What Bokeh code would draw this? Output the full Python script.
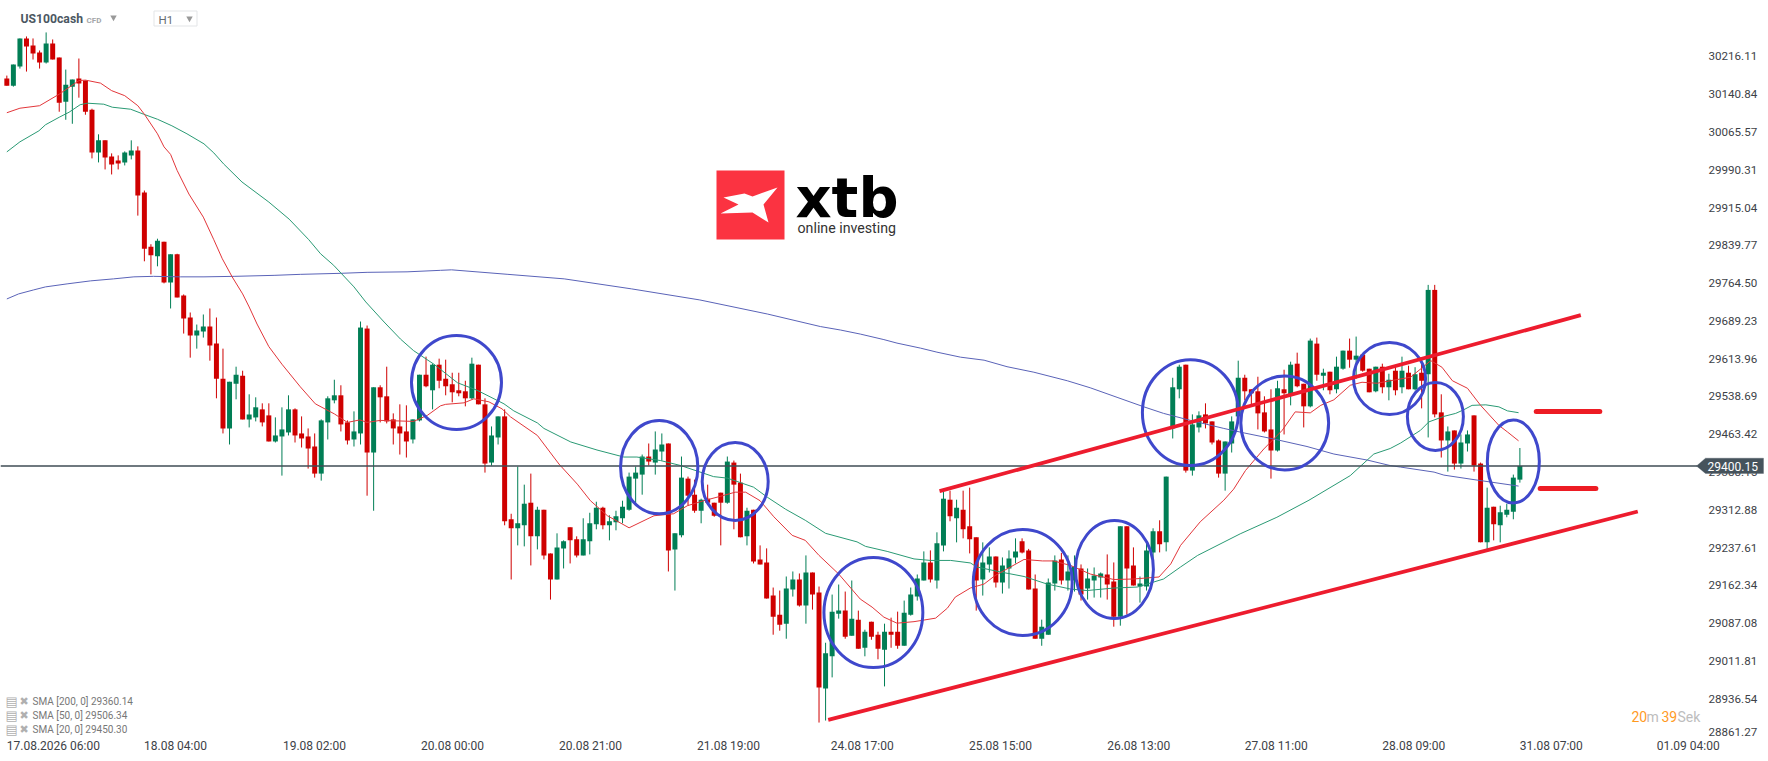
from bokeh.plotting import figure
from bokeh.embed import file_html
from bokeh.resources import INLINE
from bokeh.models import Range1d, FixedTicker, Label, PolyAnnotation, ColumnDataSource

# ---------- data ----------
highs = [
30178,30200,30252,30256,30252,30228,30264,30250,30214,30190,
30170,30212,30168,30112,30061,30049,30023,30019,30027,30049,
30037,29949,29842,29853,29847,29822,29823,29742,29706,29682,
29702,29714,29696,29634,29568,29598,29590,29543,29537,29525,
29525,29497,29517,29541,29515,29499,29475,29465,29493,29539,
29572,29561,29491,29509,29688,29680,29557,29561,29598,29505,
29523,29521,29493,29582,29618,29604,29614,29612,29586,29586,
29570,29616,29602,29535,29479,29499,29513,29305,29399,29363,
29385,29319,29313,29226,29266,29252,29278,29260,29296,29307,
29329,29319,29302,29311,29331,29387,29399,29423,29445,29469,
29465,29445,29266,29419,29379,29373,29335,29363,29327,29347,
29419,29411,29385,29317,29313,29242,29236,29158,29152,29180,
29190,29186,29222,29188,29160,29048,29144,29164,29150,29172,
29112,29074,29090,29070,29086,29098,29110,29132,29158,29184,
29230,29232,29268,29351,29351,29333,29351,29357,29258,29248,
29238,29220,29218,29232,29256,29256,29235,29184,29094,29176,
29222,29227,29222,29222,29204,29196,29198,29188,29224,29208,
29280,29280,29238,29180,29250,29276,29292,29379,29576,29602,
29602,29503,29509,29525,29489,29453,29449,29499,29610,29582,
29553,29578,29539,29553,29570,29592,29608,29626,29564,29654,
29656,29594,29588,29618,29630,29654,29658,29622,29594,29598,
29604,29584,29600,29618,29600,29597,29610,29761,29761,29543,
29479,29471,29463,29471,29501,29407,29357,29319,29321,29325,29383,29436]
lows = [
30158,30156,30192,30186,30210,30192,30202,30210,30106,30090,
30082,30134,30100,30013,30005,29991,29981,29991,29999,30011,
29899,29808,29782,29798,29764,29714,29736,29664,29616,29634,
29656,29610,29535,29465,29443,29533,29493,29477,29489,29479,
29449,29447,29381,29461,29447,29437,29395,29377,29371,29453,
29525,29469,29443,29439,29443,29341,29311,29487,29485,29443,
29423,29417,29445,29489,29557,29513,29555,29541,29527,29539,
29519,29533,29523,29387,29401,29443,29282,29174,29242,29240,
29202,29234,29214,29134,29174,29196,29206,29218,29222,29224,
29274,29274,29252,29272,29286,29311,29325,29343,29401,29383,
29411,29190,29152,29258,29321,29307,29286,29323,29299,29242,
29325,29274,29258,29242,29206,29204,29136,29064,29072,29056,
29140,29120,29086,29114,28889,28893,28979,29096,29056,29062,
29036,29021,29054,29015,28961,29038,29036,29042,29102,29132,
29172,29168,29156,29230,29290,29248,29256,29226,29112,29142,
29188,29158,29146,29156,29206,29226,29154,29056,29042,29064,
29152,29164,29152,29150,29132,29134,29138,29138,29134,29080,
29082,29104,29162,29128,29152,29172,29228,29230,29455,29535,
29387,29381,29467,29475,29443,29377,29351,29427,29487,29531,
29523,29473,29467,29375,29429,29463,29521,29557,29477,29517,
29570,29551,29543,29545,29592,29596,29574,29588,29547,29547,
29545,29531,29541,29545,29553,29551,29515,29457,29497,29417,
29389,29393,29395,29429,29389,29248,29234,29252,29248,29298,29294,29367]
opens = [
30172,30158,30196,30252,30238,30224,30204,30242,30214,30126,
30156,30172,30168,30110,30025,30049,30017,30009,30005,30019,
30029,29945,29837,29818,29847,29766,29822,29740,29696,29660,
29668,29678,29644,29574,29475,29564,29580,29493,29497,29513,
29501,29449,29459,29467,29513,29465,29459,29439,29385,29487,
29531,29541,29487,29453,29465,29674,29427,29557,29539,29493,
29479,29469,29453,29491,29582,29551,29602,29574,29563,29551,
29549,29535,29602,29523,29407,29457,29499,29294,29276,29282,
29327,29260,29313,29226,29174,29236,29278,29254,29222,29250,
29284,29317,29282,29288,29296,29313,29375,29383,29419,29407,
29429,29445,29234,29262,29375,29343,29311,29335,29327,29347,
29327,29407,29367,29260,29313,29214,29208,29142,29104,29086,
29154,29174,29122,29188,29148,28957,29021,29106,29112,29062,
29094,29038,29090,29064,29034,29070,29070,29042,29104,29140,
29172,29208,29172,29242,29333,29296,29313,29280,29258,29174,
29204,29220,29168,29196,29218,29250,29232,29156,29056,29064,
29166,29214,29172,29172,29196,29156,29172,29178,29184,29170,
29100,29280,29202,29160,29160,29228,29270,29248,29475,29553,
29602,29391,29477,29503,29489,29451,29385,29445,29499,29576,
29553,29549,29507,29473,29431,29553,29543,29604,29564,29519,
29644,29580,29588,29553,29594,29630,29612,29622,29594,29549,
29598,29557,29590,29557,29586,29553,29586,29583,29751,29507,
29451,29471,29405,29445,29501,29405,29248,29319,29282,29303,29309,29373]
closes = [
30158,30200,30252,30236,30222,30204,30242,30210,30124,30160,
30170,30162,30106,30025,30049,30015,30001,30003,30025,30029,
29939,29833,29820,29849,29766,29822,29736,29694,29660,29670,
29678,29640,29574,29475,29568,29582,29493,29503,29517,29487,
29449,29461,29473,29513,29461,29455,29435,29385,29491,29535,
29541,29483,29451,29469,29676,29427,29557,29537,29489,29475,
29465,29449,29493,29582,29559,29602,29570,29559,29547,29545,
29535,29604,29523,29405,29461,29499,29290,29276,29286,29325,
29260,29313,29222,29174,29238,29250,29252,29222,29254,29286,
29317,29282,29290,29300,29319,29379,29387,29419,29409,29433,
29443,29232,29266,29377,29341,29311,29333,29327,29301,29327,
29409,29363,29258,29311,29210,29204,29136,29100,29084,29156,
29174,29122,29188,29144,28959,29027,29110,29112,29060,29096,
29036,29070,29060,29036,29070,29064,29042,29108,29144,29176,
29208,29174,29246,29335,29300,29317,29274,29254,29172,29208,
29220,29168,29202,29216,29230,29228,29154,29056,29080,29168,
29212,29172,29190,29200,29144,29176,29182,29186,29164,29100,
29280,29196,29162,29166,29232,29270,29244,29379,29557,29598,
29391,29483,29501,29485,29447,29385,29449,29489,29576,29549,
29545,29505,29469,29431,29555,29545,29602,29559,29519,29650,
29582,29586,29551,29598,29630,29612,29620,29590,29547,29598,
29557,29572,29551,29590,29553,29583,29570,29751,29503,29451,
29469,29405,29447,29463,29401,29248,29317,29284,29308,29313,29377,29400.15]

sma20_bar = [0,2,5,8,11,12,14.3,16,18,20,21,23,24,25,26,27.8,30,31.6,32.9,34.4,36,37,38.2,40,42,44.8,47.1,50,52,53.9,55,57,62.1,64.2,66.2,67,69.8,71.3,73.6,75.6,76.9,81,84.3,87.1,89.1,91.7,95,98.8,101.8,103.9,106.4,109,111.2,112.8,115,117.1,119.9,121.9,124,127,130.3,132.1,133.9,135.9,138.5,141.8,143.6,144.8,147.1,149.2,150.9,155.3,158.1,159.8,162.4,165.4,169,172,175.9,177.7,179.2,182.2,185.8,187.3,189.1,191.9,194.7,196.7,199,200.6,202.6,205.1,206.9,209.2,211.2,214.3,217.4,219.1,220.7,223,225,227.8,229.1,230.8]
sma20_val = [30104,30113,30118,30141,30168,30169,30163,30148,30138,30118,30101,30062,30036,30021,29989,29942,29896,29851,29813,29777,29743,29717,29683,29638,29603,29558,29524,29504,29487,29492,29487,29491,29489,29501,29520,29523,29526,29534,29528,29514,29498,29461,29404,29364,29331,29301,29277,29301,29305,29321,29331,29340,29348,29348,29331,29299,29262,29252,29222,29185,29135,29119,29099,29087,29090,29097,29117,29139,29157,29165,29182,29214,29211,29211,29202,29185,29174,29175,29179,29205,29242,29289,29332,29354,29391,29434,29471,29508,29506,29521,29532,29561,29567,29565,29570,29577,29610,29597,29570,29555,29521,29481,29468,29450.30]

sma50_bar = [0,2,4.9,5.9,8,9.5,11.2,12.3,14.8,16.1,18.9,20.9,23,25.2,27.5,30.1,31.6,33.1,35.9,40,43.1,46.1,47.9,49.9,53,54.8,57.6,60.1,62.1,65.2,68.8,71.8,75.9,77.4,81,82,86.1,90.1,94.2,96.2,99.8,102.9,107.9,110,114,116.1,118.9,121.9,125,129.8,131.1,134.4,138.5,141,144.1,147.1,148.1,151.7,155.3,158.8,162.4,164.9,169,172.6,176.6,179.2,181.8,188.3,193.9,198.8,205.1,208.7,211.2,212.8,215.8,217.1,219.4,221.2,222.4,223.7,225.8,227.8,229.1,230.8]
sma50_val = [30026,30046,30068,30080,30095,30105,30120,30123,30121,30115,30111,30101,30091,30078,30062,30042,30024,30002,29966,29926,29892,29851,29823,29800,29757,29727,29687,29653,29630,29603,29566,29551,29524,29510,29486,29475,29448,29432,29418,29418,29411,29401,29379,29376,29358,29338,29314,29292,29266,29249,29240,29230,29215,29212,29212,29207,29199,29189,29180,29165,29155,29152,29157,29159,29175,29199,29222,29265,29298,29332,29381,29424,29435,29446,29471,29488,29499,29505,29512,29521,29522,29518,29510,29506.34]

sma200_bar = [0,1.8,4.1,5.9,9.2,12.8,16.3,19.4,22.4,26.5,30.1,34.7,40.8,44.8,50.9,55,61.1,66.2,67.9,76.5,85.1,95.4,105.8,116.1,124.2,127.3,130.3,133.9,135.9,139.5,142,145.6,149.2,152.7,156.8,161.9,165.4,169.5,173.6,176.6,180.7,185.8,188.9,193.4,198.5,202.6,207.7,211.2,212.8,217.9,219.4,224,230.8]
sma200_val = [29733,29743,29751,29757,29763,29769,29773,29777,29778,29777,29777,29778,29780,29782,29784,29786,29787,29790,29791,29782,29773,29753,29731,29703,29678,29671,29663,29652,29645,29635,29627,29617,29611,29598,29587,29570,29556,29537,29518,29505,29491,29475,29466,29454,29439,29424,29412,29401,29398,29388,29382,29373,29360.14]

trend_bars = [[125.4, 249.0], [142.4, 240.3]]
trend_prices = [[28894.5, 29309.5], [29350.0, 29700.8]]
level_bars = [[233.5, 243.2], [234.1, 242.6]]
level_prices = [[29508.7, 29508.7], [29355.3, 29355.3]]

circle_bar = [68.65, 99.6, 111.2, 132.3, 155.1, 169.1, 180.7, 195.1, 211.1, 218.1, 230.0]
circle_price = [29566.5, 29397.8, 29369.3, 29108.2, 29168.0, 29194.0, 29506.7, 29485.8, 29574.5, 29498.8, 29409.1]
circle_span_bars = [13.74, 11.8, 10.08, 15.1, 15.1, 11.9, 14.66, 13.4, 11.0, 8.55, 7.94]
circle_span_price = [187.3, 186.0, 155.4, 219.0, 211.0, 195.0, 211.0, 187.0, 143.5, 135.5, 165.4]

y_tick_labels = ["30216.11","30140.84","30065.57","29990.31","29915.04","29839.77","29764.50","29689.23","29613.96","29538.69","29463.42","29388.15","29312.88","29237.61","29162.34","29087.08","29011.81","28936.54","28861.27"]
x_tick_labels = ["17.08.2026 06:00","18.08 04:00","19.08 02:00","20.08 00:00","20.08 21:00","21.08 19:00","24.08 17:00","25.08 15:00","26.08 13:00","27.08 11:00","28.08 09:00","31.08 07:00","01.09 04:00"]
x_tick_bars = [7.1,25.75,46.97,68.04,89.11,110.18,130.6,151.7,172.8,193.8,214.8,235.8,256.7]
last_price = 29400.15
legend_rows = ["SMA [200, 0] 29360.14", "SMA [50, 0] 29506.34", "SMA [20, 0] 29450.30"]

# ---------- pixel helpers for the page furniture (reference pixels) ----------
def X(px):
    return (px - 6.33) / 6.55
def Y(py):
    return 29400.15 + (465.5 - py) * 1.9924

RED = "#cf0000"
GREEN = "#017e55"

FRAME_RIGHT = 1764
p = figure(frame_width=FRAME_RIGHT, frame_height=737, output_backend="svg", toolbar_location=None,
           x_range=Range1d(X(0), X(FRAME_RIGHT)), y_range=Range1d(Y(737), Y(0)),
           y_axis_location="right", min_border=0, min_border_left=0, min_border_top=0,
           min_border_right=0, min_border_bottom=0, background_fill_color="white",
           border_fill_color="white", outline_line_color=None)
p.grid.visible = False

ya = p.yaxis[0]
tick_values = [float(t) for t in y_tick_labels]
tick_values[-1] = 28869.8  # the last label is pushed up by the bottom edge in the reference
ya.ticker = FixedTicker(ticks=tick_values)
ya.major_label_overrides = {v: t for v, t in zip(tick_values, y_tick_labels)}
ya.axis_line_color = None
ya.major_tick_line_color = None
ya.minor_tick_line_color = None
ya.major_tick_in = 0
ya.major_tick_out = 0
ya.major_label_text_font = "Roboto"
ya.major_label_text_font_size = "11.6px"
ya.major_label_text_color = "#3d4247"
ya.major_label_standoff = -56  # labels sit inside the frame so the price tag can cover them

xa = p.xaxis[0]
xa.ticker = FixedTicker(ticks=x_tick_bars)
xa.major_label_overrides = {v: t for v, t in zip(x_tick_bars, x_tick_labels)}
xa.axis_line_color = None
xa.major_tick_line_color = None
xa.minor_tick_line_color = None
xa.major_tick_in = 0
xa.major_tick_out = 0
xa.major_label_text_font = "Roboto"
xa.major_label_text_font_size = "12px"
xa.major_label_text_color = "#3d4247"
xa.major_label_standoff = 1

bars = list(range(len(opens)))
colors = [GREEN if c >= o else RED for o, c in zip(opens, closes)]
src = ColumnDataSource(dict(x=bars, o=opens, c=closes, h=highs, l=lows, col=colors,
                            top=[max(a, b) for a, b in zip(opens, closes)],
                            bot=[min(a, b) for a, b in zip(opens, closes)]))

p.segment("x", "h", "x", "l", source=src, line_color="col", line_width=1.0)
p.vbar("x", 0.76, "bot", "top", source=src, fill_color="col", line_color=None)

p.line(sma200_bar, sma200_val, line_color="#5a63b8", line_width=1.0)
p.line(sma50_bar, sma50_val, line_color="#2a9a74", line_width=1.0)
p.line(sma20_bar, sma20_val, line_color="#e2363a", line_width=1.0)

p.line([X(0), X(1697)], [last_price, last_price], line_color="#3f4c55", line_width=1.3)

p.ellipse(circle_bar, circle_price, width=circle_span_bars, height=circle_span_price,
          fill_color=None, line_color="#3f48cc", line_width=3)
for xs, ys in zip(trend_bars, trend_prices):
    p.line(xs, ys, line_color="#ed1c2e", line_width=3.8)
for xs, ys in zip(level_bars, level_prices):
    p.line(xs, ys, line_color="#ed1c24", line_width=5, line_cap="round")

# logo
p.quad(left=[X(716)], right=[X(784)], bottom=[Y(239)], top=[Y(170)], fill_color="#fb3341", line_color=None)
p.patch([X(v) for v in (723, 744, 752, 777, 763, 768, 752, 720, 738)],
        [Y(v) for v in (197, 193, 196, 187, 204, 222, 212, 213, 204)], fill_color="white", line_color=None)
p.add_layout(Label(x=X(795), y=Y(197), text="xtb", text_font="DejaVu Sans", text_font_style="bold",
                   text_font_size="56px", text_color="#000000", text_baseline="middle", text_align="left"))
p.add_layout(Label(x=X(797), y=Y(227), text="online investing", text_font="Roboto",
                   text_font_size="14.2px", text_color="#333333", text_baseline="middle", text_align="left"))

# header
p.add_layout(Label(x=X(20), y=Y(18.5), text="US100cash", text_font="Roboto", text_font_style="bold",
                   text_font_size="12.2px", text_color="#4b5762", text_baseline="middle"))
p.add_layout(Label(x=X(86), y=Y(19.5), text="CFD", text_font="Roboto", text_font_style="bold",
                   text_font_size="8px", text_color="#a3a6a9", text_baseline="middle"))
p.quad(left=[X(153.5)], right=[X(196.5)], bottom=[Y(25.5)], top=[Y(10.5)], fill_color="white", line_color="#e3e5e7", line_width=1)
p.add_layout(Label(x=X(158), y=Y(19.5), text="H1", text_font="Roboto",
                   text_font_size="11.5px", text_color="#666c72", text_baseline="middle"))
p.scatter([X(113), X(189)], [Y(17), Y(18)], marker="inverted_triangle", size=6.5, fill_color="#999999", line_color=None)

# indicator legend
for row, py in zip(legend_rows, (701, 715, 729)):
    p.add_layout(Label(x=X(5), y=Y(py), text="\u25a4", text_font="DejaVu Sans", text_font_size="13px",
                       text_color="#b0b0b0", text_baseline="middle"))
    p.add_layout(Label(x=X(19), y=Y(py), text="\u2716", text_font="DejaVu Sans", text_font_size="11px",
                       text_color="#b0b0b0", text_baseline="middle"))
    p.add_layout(Label(x=X(32), y=Y(py), text=row, text_font="Roboto", text_font_size="10px",
                       text_color="#777777", text_baseline="middle"))

# countdown
for txt, px, col in (("20", 1631, "#ff9a1f"), ("m", 1646, "#bdbdbd"), ("39", 1661, "#ff9a1f"), ("Sek", 1677, "#bdbdbd")):
    p.add_layout(Label(x=X(px), y=Y(716), text=txt, text_font="Roboto", text_font_size="14px",
                       text_color=col, text_baseline="middle"))

# price tag on the axis
p.add_layout(PolyAnnotation(xs=[X(1696), X(1705), X(1763), X(1763), X(1705)],
                            ys=[Y(465.5), Y(457.7), Y(457.7), Y(473), Y(473)],
                            fill_color="#46535c", fill_alpha=1, line_color="#46535c", level="overlay"))
p.add_layout(Label(x=X(1707), y=Y(466), text="29400.15", text_font="Roboto", text_font_size="12px",
                   text_color="white", text_baseline="middle", level="overlay"))

open("out.html", "w").write(file_html(p, INLINE))
